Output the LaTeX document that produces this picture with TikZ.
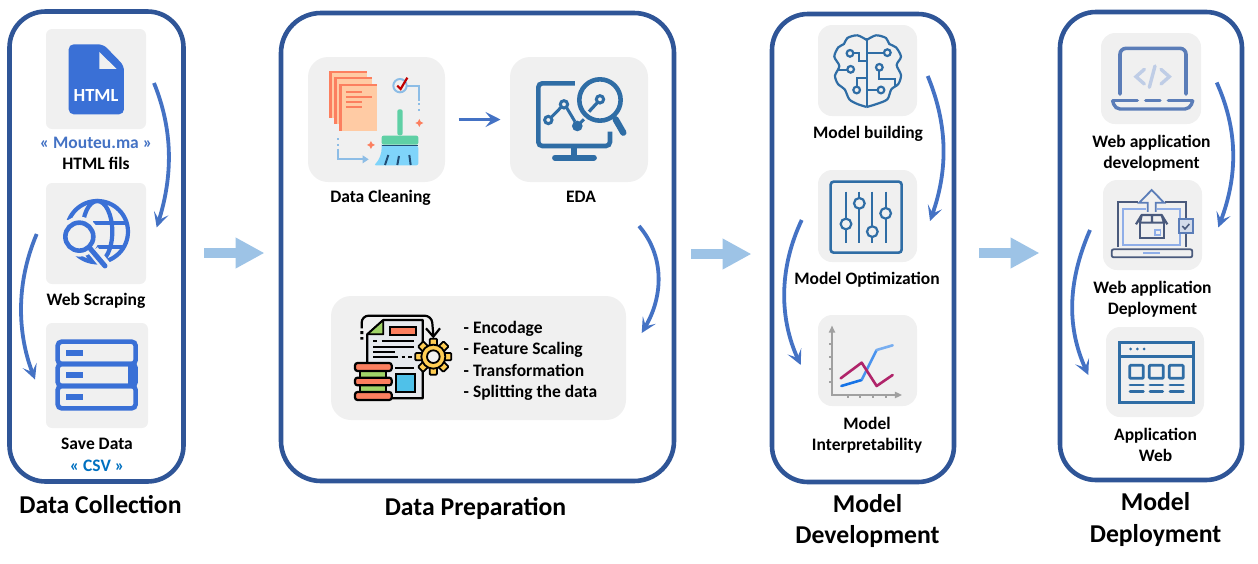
\documentclass[tikz,border=0pt]{standalone}
\usepackage{fontspec}
\setmainfont{Carlito}
\usetikzlibrary{arrows.meta,calc}
\definecolor{frameblue}{HTML}{2F5597}
\definecolor{flowblue}{HTML}{4472C4}
\definecolor{bigblue}{HTML}{9DC3E6}
\definecolor{tilegray}{HTML}{F0F0F0}
\definecolor{iconblue}{HTML}{3A70D6}
\definecolor{steel}{HTML}{2F6DA5}
\definecolor{peach}{HTML}{FFCBA4}
\definecolor{coral}{HTML}{FC7F5F}
\definecolor{mint}{HTML}{5FD0A5}
\definecolor{sky}{HTML}{7FD4FA}
\definecolor{palelink}{HTML}{8DBDE6}
\definecolor{lap}{HTML}{5B7DB8}
\definecolor{lappale}{HTML}{BFCDE6}
\definecolor{deepslate}{HTML}{4A5A7C}
\definecolor{lightscreen}{HTML}{8FAEE8}
\definecolor{axisgray}{HTML}{A0A0A0}
\definecolor{leaf}{HTML}{A0D468}
\definecolor{docgray}{HTML}{E6E9EE}
\definecolor{gearyellow}{HTML}{FFCE54}
\definecolor{docblue}{HTML}{4FC1E9}
\definecolor{csvblue}{HTML}{0070C0}
\definecolor{lineA}{HTML}{1673E6}
\definecolor{lineB}{HTML}{4A93EE}
\definecolor{lineC}{HTML}{78AEF0}
\definecolor{lineD}{HTML}{B0246A}
\tikzset{
  stage/.style={draw=frameblue,line width=4.6pt,fill=none,rounded corners=36pt,inner sep=0pt,outer sep=0pt},
  tile/.style={fill=tilegray,draw=none,rounded corners=6pt,inner sep=0pt,outer sep=0pt},
  bigtile/.style={tile,rounded corners=20pt},
  midtile/.style={tile,rounded corners=14pt},
  lbl/.style={font=\bfseries\fontsize{17.5}{20}\selectfont,inner sep=0pt,text height=14pt,text depth=3pt,anchor=center},
  ttl/.style={font=\bfseries\fontsize{25.7}{30}\selectfont,inner sep=0pt,text height=20pt,text depth=3pt,anchor=center},
  flow/.style={draw=flowblue,line width=3.8pt,-{Stealth[length=15pt,width=15pt,inset=7pt]}},
  bigarrow/.style={draw=bigblue,line width=10pt,-{Triangle[length=29pt,width=29pt]}},
  icon/.style={shift={#1},x=0.3333pt,y=-0.3333pt},
}
\begin{document}
\begin{tikzpicture}[x=1pt,y=-1pt]
\useasboundingbox (0,0) rectangle (1258,563);
% stages
\node[stage,minimum width=174pt,minimum height=470pt] (s1) at (96.5,246.5) {};
\node[stage,minimum width=393pt,minimum height=468pt,rounded corners=40pt] (s2) at (477.5,247) {};
\node[stage,minimum width=182pt,minimum height=468pt] (s3) at (863,248) {};
\node[stage,minimum width=182pt,minimum height=468pt] (s4) at (1151,246) {};
% tiles
\node[tile,minimum width=100pt,minimum height=100pt] (t1) at (96,79) {};
\node[tile,minimum width=100pt,minimum height=101pt] (t2) at (96,233.5) {};
\node[tile,minimum width=102pt,minimum height=105pt] (t3) at (97,375.5) {};
\node[bigtile,minimum width=137pt,minimum height=125pt] (dc) at (376.5,119.5) {};
\node[bigtile,minimum width=138pt,minimum height=125pt] (eda) at (579,119.5) {};
\node[bigtile,minimum width=295pt,minimum height=124pt] (prep) at (478.5,358) {};
\node[midtile,minimum width=99pt,minimum height=91pt] (mb) at (867.5,70.5) {};
\node[midtile,minimum width=99pt,minimum height=92pt] (mo) at (867.5,216) {};
\node[midtile,minimum width=99pt,minimum height=91pt] (mi) at (867.5,360.5) {};
\node[midtile,minimum width=100pt,minimum height=91pt] (wd) at (1151,78.5) {};
\node[midtile,minimum width=99pt,minimum height=90pt] (wp) at (1152.5,225) {};
\node[midtile,minimum width=98pt,minimum height=90pt] (aw) at (1155,372) {};
% --- HTML icon
\begin{scope}[icon={(0,0)}]
\fill[iconblue,rounded corners=5pt] (206,133) -- (310,133) -- (372,197) -- (372,343) -- (206,343) -- cycle;
\fill[tilegray] (298,156) -- (298,207) -- (350,207) -- cycle;
\end{scope}
\node[font=\bfseries\fontsize{18.5}{20}\selectfont,text=white,inner sep=0pt] (htmlword) at (96,95) {HTML};
% --- globe icon
\begin{scope}[icon={(0,0)}]
\draw[iconblue,line width=4.2pt] (292,695) circle[radius=92];
\draw[iconblue,line width=4.2pt] (292,695) ellipse[x radius=45,y radius=92];
\draw[iconblue,line width=4.2pt] (280,670) -- (384,670);
\draw[iconblue,line width=4.2pt] (280,740) -- (376,740);
\fill[tilegray] (238,710) circle[radius=60];
\fill[tilegray] (180,660) rectangle (210,700);
\draw[tilegray,line width=11pt] (280,752) -- (320,802);
\draw[iconblue,line width=4.6pt] (238,710) circle[radius=42];
\draw[iconblue,line width=5pt,line cap=round] (270,745) -- (315,798);
\end{scope}
% --- servers icon
\begin{scope}[icon={(0,280)}]
\draw[iconblue,line width=4.6pt,rounded corners=4pt] (173,185) rectangle (407,252);
\draw[iconblue,line width=4.6pt,rounded corners=4pt] (173,252) rectangle (407,318);
\draw[iconblue,line width=4.6pt,rounded corners=4pt] (173,318) rectangle (407,385);
\fill[iconblue] (384,258) rectangle (407,312);
\fill[iconblue] (199,210) rectangle (250,227);
\fill[iconblue] (199,276) rectangle (250,293);
\fill[iconblue] (199,343) rectangle (250,359);
\end{scope}
% --- data cleaning icon
\begin{scope}[icon={(290,40)}]
\foreach \xa/\ya in {118/93,133/112,148/132}{
  \fill[coral] (\xa,\ya) rectangle ++(112,140);
  \fill[peach] ({\xa+7},{\ya+6}) rectangle ++(105,134);
}
\draw[coral,line width=1.8pt] (168,155) -- (215,155) (168,170) -- (245,170) (168,186) -- (215,186) (168,202) -- (215,202);
\draw[palelink,line width=2pt] (330,137) circle[radius=20];
\draw[red!75!black,line width=2.2pt] (322,137) -- (332,147) -- (352,113);
\draw[palelink,line width=2pt] (352,137) -- (388,137) -- (388,182);
\draw[palelink,line width=2pt] (388,190) -- (388,196) (388,207) -- (388,213);
\fill[mint,rounded corners=2pt] (322,208) rectangle (338,286);
\fill[mint,rounded corners=2pt] (275,287) rectangle (385,314);
\fill[sky,rounded corners=2pt] (275,318) -- (385,318) -- (385,376) -- (252,376) .. controls (268,360) and (275,340) .. cycle;
\draw[steel!70!black,line width=1.6pt] (275,316) -- (385,316);
\draw[steel!70!black,line width=2pt] (295,345) -- (285,375) (327,348) -- (322,375) (358,345) -- (362,375);
\fill[coral] (388,237) -- (392,245) -- (400,249) -- (392,253) -- (388,261) -- (384,253) -- (376,249) -- (384,245) -- cycle;
\fill[coral] (243,303) -- (247,311) -- (255,315) -- (247,319) -- (243,327) -- (239,319) -- (231,315) -- (239,311) -- cycle;
\draw[palelink,line width=2pt] (143,295) -- (143,301) (143,312) -- (143,318);
\draw[palelink,line width=2pt] (143,326) -- (143,358) -- (222,358);
\fill[palelink] (218,346) -- (236,358) -- (218,370) -- cycle;
\end{scope}
% --- EDA icon
\begin{scope}[icon={(290,40)}]
\draw[steel,line width=4.6pt,rounded corners=4pt] (855,130) -- (745,130) -- (745,318) -- (960,318) -- (960,275);
\draw[steel,line width=5.4pt] (852,320) -- (852,350);
\draw[steel,line width=5.8pt,line cap=round] (795,353) -- (912,353);
\draw[steel,line width=4.6pt] (930,180) circle[radius=62];
\draw[steel,line width=6.4pt,line cap=round] (977,238) -- (1000,278);
\draw[steel,line width=3pt] (930,178) circle[radius=11];
\draw[steel,line width=3.2pt] (922,188) -- (897,215);
\draw[steel,line width=3pt] (775,240) circle[radius=11] (822,193) circle[radius=11];
\draw[steel,line width=3pt] (784,232) -- (813,202) (830,203) -- (855,245) (870,250) -- (882,238);
\fill[steel] (862,258) circle[radius=16];
\end{scope}
% --- preparation icon
\begin{scope}[icon={(350,305)}]
\draw[black,line width=2.2pt,fill=docgray,line join=round] (52,88) -- (100,45) -- (218,45) -- (218,280) -- (52,280) -- cycle;
\draw[black,line width=1.8pt,fill=leaf,line join=round] (52,88) -- (100,88) -- (100,45) -- cycle;
\draw[black,line width=2pt,fill=coral] (120,65) rectangle (197,90);
\draw[black,line width=2pt] (70,107) -- (80,107) (95,107) -- (192,107) (70,125) -- (192,125) (70,142) -- (135,142) (70,157) -- (145,157) (155,157) -- (165,157) (175,157) -- (185,157) (135,190) -- (192,190);
\draw[black,line width=2.2pt,fill=docblue] (137,207) rectangle (195,262);
\draw[black,line width=2.2pt,rounded corners=7pt] (35,70) -- (35,32) -- (245,32) -- (250,90);
\draw[black,line width=2.2pt] (228,70) -- (250,95) -- (270,70);
\fill[black] (31,78) rectangle (40,87) (31,96) rectangle (40,104);
\foreach \a in {0,45,...,315}{
  \draw[black,line width=1.8pt,fill=gearyellow,rounded corners=1pt,rotate around={\a:(250,155)}] (239,101) rectangle (261,122);
}
\draw[black,line width=1.8pt,fill=gearyellow] (250,155) circle[radius=36];
\draw[black,line width=1.8pt,fill=tilegray] (250,155) circle[radius=19];
\draw[black,line width=1.8pt,fill=leaf] (30,197) rectangle (108,218) (30,241) rectangle (108,262);
\draw[black,line width=2.2pt,fill=coral,rounded corners=2.5pt] (15,174) rectangle (125,198);
\draw[black,line width=2.2pt,fill=coral,rounded corners=2.5pt] (15,218) rectangle (125,241);
\draw[black,line width=2.2pt,fill=coral,rounded corners=2.5pt] (15,261) rectangle (125,285);
\end{scope}
% --- brain icon
\begin{scope}[icon={(770,10)},steel,line width=2.2pt]
\draw plot[smooth,tension=.5] coordinates {(290,90) (318,76) (348,84) (358,102) (378,112) (393,140) (380,165) (393,195) (385,222) (364,238) (352,268) (320,282) (290,291)};
\draw plot[smooth,tension=.5] coordinates {(290,90) (262,76) (232,84) (222,102) (205,112) (193,140) (208,168) (195,197) (204,222) (224,238) (238,268) (262,282) (290,291)};
\draw (290,85) -- (290,291);
\draw (240,130) circle[radius=10] (352,128) circle[radius=10] (242,178) circle[radius=10] (328,172) circle[radius=10] (260,240) circle[radius=10] (333,240) circle[radius=10];
\draw (250,130) -- (268,130) -- (268,153) -- (290,153);
\draw (290,128) -- (342,128);
\draw (205,180) -- (232,180);
\draw (328,182) -- (328,207) -- (375,207) -- (375,228);
\draw (260,230) -- (260,203) -- (290,203);
\draw (290,240) -- (323,240);
\end{scope}
% --- sliders icon
\begin{scope}[icon={(770,10)},steel,line width=2.2pt]
\draw[rounded corners=3pt,line width=2.6pt] (182,515) rectangle (395,728);
\draw (228,545) -- (228,698) (268,545) -- (268,698) (307,545) -- (307,698) (347,545) -- (347,698);
\draw[fill=tilegray] (228,642) circle[radius=16] (268,580) circle[radius=16] (307,665) circle[radius=16] (347,610) circle[radius=16];
\end{scope}
% --- chart icon
\begin{scope}[icon={(770,260)}]
\draw[axisgray,line width=2pt] (186,210) -- (186,405) -- (385,405);
\fill[axisgray] (176,218) -- (186,197) -- (196,218) -- cycle;
\fill[axisgray] (375,395) -- (396,405) -- (375,415) -- cycle;
\draw[axisgray,line width=1.8pt] (178,253) -- (186,253) (178,290) -- (186,290) (178,328) -- (186,328) (178,365) -- (186,365);
\draw[axisgray,line width=1.8pt] (233,405) -- (233,413) (271,405) -- (271,413) (309,405) -- (309,413) (347,405) -- (347,413);
\draw[lineA,line width=2.6pt,line cap=round] (214,378) -- (275,360);
\draw[lineB,line width=2.6pt] (275,360) -- (320,270);
\draw[lineC,line width=2.6pt,line cap=round] (320,270) -- (368,256);
\draw[lineD,line width=2.6pt,line cap=round,line join=round] (212,355) -- (275,308) -- (320,378) -- (368,345);
\end{scope}
% --- laptop icon
\begin{scope}[icon={(1060,10)}]
\draw[lap,line width=3.6pt,rounded corners=6pt,line cap=round] (180,252) -- (180,115) -- (378,115) -- (378,252);
\draw[lappale,line width=3.4pt,line cap=round] (253,178) -- (228,200) -- (253,222) (303,178) -- (328,200) -- (303,222) (285,168) -- (268,232);
\draw[lap,line width=3.4pt,line cap=round] (158,272) -- (232,272) (257,272) -- (300,272) (325,272) -- (398,272);
\draw[lap,line width=3.4pt,rounded corners=5pt] (158,272) -- (165,297) -- (390,297) -- (398,272);
\end{scope}
% --- deployment icon
\begin{scope}[icon={(1060,10)}]
\draw[deepslate,line width=1.8pt] (175,712) -- (175,577) -- (235,577) (315,577) -- (378,577) -- (378,625) (378,672) -- (378,712);
\draw[deepslate,line width=1.8pt,rounded corners=2pt] (155,718) rectangle (397,742);
\draw[lightscreen,line width=2pt] (258,598) -- (190,598) -- (190,705) -- (360,705) -- (360,598) -- (292,598);
\draw[lightscreen,line width=2pt] (250,729) -- (300,729);
\draw[lap,line width=1.8pt] (263,606) -- (263,578) -- (238,578) -- (275,540) -- (312,578) -- (287,578) -- (287,606);
\draw[deepslate,line width=2.2pt] (240,638) -- (240,683) -- (312,683) -- (312,638);
\draw[deepslate,line width=2.2pt,line join=round] (228,643) -- (245,615) -- (305,615) -- (322,643) (245,615) -- (240,638) -- (276,638) -- (276,615) (305,615) -- (312,638) -- (276,638);
\draw[lightscreen,line width=1.6pt] (285,660) rectangle (302,675);
\draw[lap,line width=1.8pt,fill=lappale!60!tilegray] (358,628) rectangle (398,668);
\draw[deepslate,line width=1.6pt] (367,648) -- (375,657) -- (388,642);
\end{scope}
% --- web page icon
\begin{scope}[icon={(1060,270)},steel]
\draw[line width=2.6pt] (178,217) rectangle (400,397);
\draw[line width=2.6pt] (178,260) -- (400,260);
\fill (212,237) circle[radius=4.5] (232,237) circle[radius=4.5] (252,237) circle[radius=4.5];
\draw[line width=2.8pt,rounded corners=1pt] (209,286) rectangle (250,325) (268,286) rectangle (310,325) (328,286) rectangle (370,325);
\draw[line width=2.8pt,line cap=round] (210,345) -- (250,345) (270,345) -- (308,345) (330,345) -- (370,345) (210,364) -- (250,364) (270,364) -- (308,364) (330,364) -- (370,364);
\end{scope}
% labels
\node[lbl,text=flowblue] (l1) at (96,143) {« Mouteu.ma »};
\node[lbl] (l2) at (96,164) {HTML fils};
\node[lbl] (l3) at (96,300) {Web Scraping};
\node[lbl] (l4) at (97,444) {Save Data};
\node[lbl,text=csvblue] (l5) at (97,466) {« CSV »};
\node[ttl] (h1) at (100.5,505) {Data Collection};
\node[lbl] (l6) at (380.5,197) {Data Cleaning};
\node[lbl] (l7) at (581,197) {EDA};
\node[lbl,anchor=west] (p1) at (463.5,328) {- Encodage};
\node[lbl,anchor=west] (p2) at (463.5,349) {- Feature Scaling};
\node[lbl,anchor=west] (p3) at (463.5,371) {- Transformation};
\node[lbl,anchor=west] (p4) at (463.5,392) {- Splitting the data};
\node[ttl] (h2) at (475.5,507) {Data Preparation};
\node[lbl] (l8) at (868,133) {Model building};
\node[lbl] (l9) at (867,279) {Model Optimization};
\node[lbl] (l10) at (867,424) {Model};
\node[lbl] (l11) at (867,445) {Interpretability};
\node[ttl] (h3a) at (867.5,504) {Model};
\node[ttl] (h3b) at (867.5,535) {Development};
\node[lbl] (l12) at (1151.5,142) {Web application};
\node[lbl] (l13) at (1151.5,163) {development};
\node[lbl] (l14) at (1152.5,288) {Web application};
\node[lbl] (l15) at (1152.5,309) {Deployment};
\node[lbl] (l16) at (1155.5,435) {Application};
\node[lbl] (l17) at (1155.5,456) {Web};
\node[ttl] (h4a) at (1155.5,502) {Model};
\node[ttl] (h4b) at (1155.5,534) {Deployment};
% connector ends
\coordinate (a1s) at (154,83);
\coordinate (a1e) at (156.7,227.5);
\coordinate (a2s) at (36.7,234);
\coordinate (a2e) at (35,379.5);
\coordinate (a3s) at (639,226);
\coordinate (a3e) at (641.7,333);
\coordinate (a4s) at (927.7,76);
\coordinate (a4e) at (930,221);
\coordinate (a5s) at (801.7,220);
\coordinate (a5e) at (800.7,365);
\coordinate (a6s) at (1216.7,82.5);
\coordinate (a6e) at (1218.3,227.5);
\coordinate (a7s) at (1090,230);
\coordinate (a7e) at (1088.3,375);
\coordinate (b1s) at (204,253);
\coordinate (b1e) at (264.5,253);
\coordinate (b2s) at (691,254);
\coordinate (b2e) at (751.5,254);
\coordinate (b3s) at (979,253);
\coordinate (b3e) at (1039.5,253);
% connectors
\draw[flow] (a1s) .. controls (173,130) and (173,175) .. (a1e);
\draw[flow] (a2s) .. controls (15,285) and (18,335) .. (a2e);
\draw[flow] (a3s) .. controls (664,255) and (664,295) .. (a3e);
\draw[flow] (a4s) .. controls (948,125) and (948,170) .. (a4e);
\draw[flow] (a5s) .. controls (778,270) and (780,320) .. (a5e);
\draw[flow] (a6s) .. controls (1238,130) and (1238,175) .. (a6e);
\draw[flow] (a7s) .. controls (1066,285) and (1068,330) .. (a7e);
\draw[flow,line width=3.4pt,-{Stealth[length=15pt,width=15pt,inset=6pt]},shorten <=13.5pt,shorten >=9.5pt] (dc) -- (eda);
\draw[bigarrow] (b1s) -- (b1e);
\draw[bigarrow] (b2s) -- (b2e);
\draw[bigarrow] (b3s) -- (b3e);
\end{tikzpicture}
\end{document}
